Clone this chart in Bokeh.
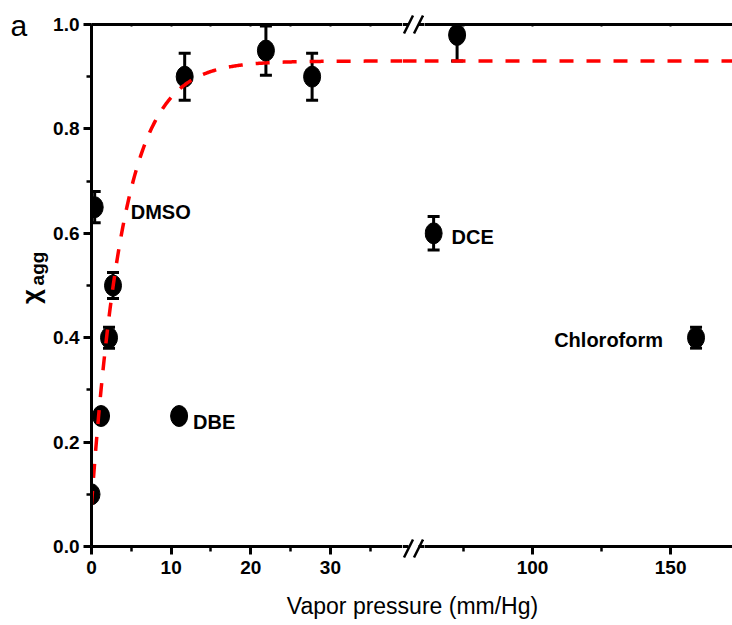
import numpy as np
from bokeh.plotting import figure
from bokeh.models import (ColumnDataSource, Range1d, LinearAxis, FixedTicker,
                          NumeralTickFormatter, Label)
from bokeh.layouts import row, column
from bokeh.embed import file_html
from bokeh.resources import INLINE
from bokeh.core.properties import value

# Aggregated fraction of the dye against solvent vapour pressure
vapor_pressure = [0.0, 1.2, 2.2, 2.7, 0.4, 11.7, 11.0, 21.9, 27.7, 64.2, 72.7, 159.2]
chi_agg = [0.10, 0.25, 0.40, 0.50, 0.65, 0.90, 0.25, 0.95, 0.90, 0.60, 0.98, 0.40]
chi_err = [0.010, 0.010, 0.020, 0.025, 0.030, 0.045, 0.012, 0.047, 0.045, 0.032, 0.050, 0.020]
solvent = ["", "", "", "", "DMSO", "", "DBE", "", "", "DCE", "", "Chloroform"]

# exponential fit  chi = plateau - amplitude * exp(-p / tau)
fit_plateau = 0.93
fit_amplitude = 0.85
fit_tau = 4.0

x_ticks_low = [0, 10, 20, 30]
x_minor_low = [5, 15, 25, 35]
x_ticks_high = [100, 150]
x_minor_high = [75, 125]
y_ticks = [0.0, 0.2, 0.4, 0.6, 0.8, 1.0]
y_minor = [0.1, 0.3, 0.5, 0.7, 0.9]

# broken x axis: low and high pressure panels side by side
LOW = (0.0, 39.05)
HIGH = (60.9, 172.4)

# label placement (pixels from the marker centre)
label_style = {
    "DMSO": (36, 5, "left"),
    "DBE": (14, 6, "left"),
    "DCE": (18, 4, "left"),
    "Chloroform": (-33, 2, "right"),
}

FONT = "Liberation Sans"
H = 586          # height of the plotting row
TOP, BOTTOM = 24, 546   # frame edges inside that row
FIT_STYLE = dict(line_color="red", line_width=3.5, line_dash="14 13")


def fit(p):
    return fit_plateau - fit_amplitude * np.exp(-np.asarray(p) / fit_tau)


def make_source(lo, hi):
    d = dict(x=[], y=[], top=[], bottom=[], name=[], dx=[], dy=[], align=[])
    for x, y, e, s in zip(vapor_pressure, chi_agg, chi_err, solvent):
        if lo <= x <= hi:
            d["x"].append(x)
            d["y"].append(y)
            d["top"].append(y + e)
            d["bottom"].append(y - e)
            d["name"].append(s)
            dx, dy, al = label_style.get(s, (0, 0, "left"))
            d["dx"].append(dx)
            d["dy"].append(dy)
            d["align"].append(al)
    return ColumnDataSource(d)


def style_axis(ax):
    ax.axis_line_width = 3
    ax.axis_line_color = "black"
    ax.major_tick_line_width = 3
    ax.minor_tick_line_width = 2.5
    ax.major_tick_out = 8
    ax.major_tick_in = 0
    ax.minor_tick_out = 5
    ax.minor_tick_in = 0
    ax.major_label_text_font = FONT
    ax.major_label_text_font_style = "bold"
    ax.major_label_text_font_size = "19px"
    ax.major_label_text_color = "black"


def top_axis(ticks):
    # frame line along the top, small inward marks only
    ax = LinearAxis(ticker=FixedTicker(ticks=[], minor_ticks=ticks))
    ax.axis_line_width = 3
    ax.minor_tick_out = 0
    ax.minor_tick_in = 2
    ax.minor_tick_line_width = 2
    return ax


def blank(width, height, xr, yr):
    f = figure(width=width, height=height, x_range=xr, y_range=yr,
               toolbar_location=None, output_backend="svg",
               x_axis_location=None, y_axis_location=None, min_border=0,
               outline_line_color=None, background_fill_color="white",
               border_fill_color="white")
    f.grid.visible = False
    return f


def draw(p, src, xr):
    p.segment(x0="x", y0="bottom", x1="x", y1="top", source=src,
              line_color="black", line_width=3)
    p.scatter(x="x", y="top", source=src, marker="dash", size=12,
              line_color="black", line_width=3)
    p.scatter(x="x", y="bottom", source=src, marker="dash", size=12,
              line_color="black", line_width=3)
    p.ellipse(x="x", y="y", width=17, height=21, width_units="screen",
              height_units="screen", source=src, fill_color="black",
              line_color="black")
    p.text(x="x", y="y", text="name", x_offset="dx", y_offset="dy",
           text_align="align", text_baseline="middle", source=src,
           text_font=value(FONT), text_font_style="bold",
           text_font_size="20px", text_color="black")
    fx = np.linspace(xr[0], xr[1], 300)
    p.line(fx, fit(fx), **FIT_STYLE)


yr = Range1d(0, 1)

left = figure(width=352, height=H, x_range=Range1d(*LOW), y_range=yr,
              toolbar_location=None, output_backend="svg",
              min_border_left=41, min_border_right=0, min_border_top=TOP,
              min_border_bottom=H - BOTTOM, outline_line_color=None,
              background_fill_color="white", border_fill_color="white")
right = figure(width=308, height=H, x_range=Range1d(*HIGH), y_range=yr,
               toolbar_location=None, output_backend="svg",
               y_axis_location=None,
               min_border_left=0, min_border_right=0, min_border_top=TOP,
               min_border_bottom=H - BOTTOM, outline_line_color=None,
               background_fill_color="white", border_fill_color="white")

for p in (left, right):
    p.grid.visible = False

left.xaxis.ticker = FixedTicker(ticks=x_ticks_low, minor_ticks=x_minor_low)
right.xaxis.ticker = FixedTicker(ticks=x_ticks_high, minor_ticks=x_minor_high)
left.yaxis.ticker = FixedTicker(ticks=y_ticks, minor_ticks=y_minor)
left.yaxis.formatter = NumeralTickFormatter(format="0.0")
for ax in (left.xaxis[0], right.xaxis[0], left.yaxis[0]):
    style_axis(ax)
left.xaxis.major_label_standoff = 6
right.xaxis.major_label_standoff = 6
left.yaxis.major_label_standoff = 4

left.add_layout(top_axis(x_ticks_low + x_minor_low), "above")
right.add_layout(top_axis(x_ticks_high + x_minor_high), "above")

draw(left, make_source(*LOW), LOW)
draw(right, make_source(*HIGH), HIGH)

# strip holding the panel letter and the y-axis title (page pixels, y down)
ylab = blank(50, H, Range1d(0, 50), Range1d(H, 0))
ylab.text(x=[10], y=[25], text=["a"], text_align="left",
          text_baseline="middle", text_font=value(FONT),
          text_font_size="30px", text_color="black")
# rotated title, subscript shifted towards the baseline side
ylab.text(x=[30], y=[296], text=["χ"], angle=np.pi / 2, text_align="center",
          text_baseline="middle", text_font=value(FONT),
          text_font_style="bold", text_font_size="26px", text_color="black")
ylab.text(x=[37], y=[268], text=["agg"], angle=np.pi / 2,
          text_align="center", text_baseline="middle",
          text_font=value(FONT), text_font_style="bold",
          text_font_size="19px", text_color="black")

# strip between the panels with the "//" axis-break marks
gap = blank(22, H, Range1d(402, 424), Range1d(H, 0))
plateau_px = BOTTOM - float(fit(HIGH[0])) * (BOTTOM - TOP)
gap.line(x=[402, 424], y=[plateau_px, plateau_px], **FIT_STYLE)
for yc, ym in ((BOTTOM, BOTTOM + 2), (TOP, TOP)):
    gap.segment(x0=[402, 418], y0=[yc, yc], x1=[408, 424], y1=[yc, yc],
                line_color="black", line_width=3)
    gap.segment(x0=[403.5, 413.5], y0=[ym + 9, ym + 9],
                x1=[412.5, 422.5], y1=[ym - 9, ym - 9],
                line_color="black", line_width=2.5)

# x-axis title spanning both panels
bottom = blank(732, 625 - H, Range1d(0, 732), Range1d(0, 625 - H))
bottom.add_layout(Label(x=412, y=20, text="Vapor pressure (mm/Hg)",
                        text_align="center", text_baseline="middle",
                        text_font=FONT, text_font_size="23px",
                        text_color="black"))

layout = column(row(column(ylab), left, column(gap), right), bottom)
open("out.html", "w").write(file_html(layout, INLINE))
